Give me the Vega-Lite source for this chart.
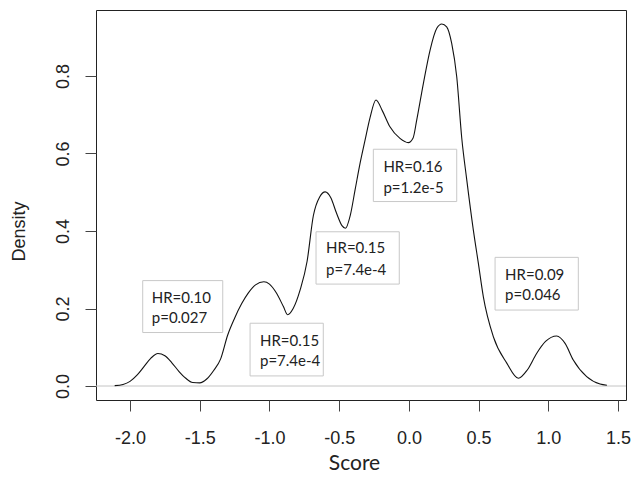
{
  "$schema": "https://vega.github.io/schema/vega-lite/v6.json",
  "width": 530,
  "height": 390,
  "autosize": "none",
  "padding": {"left": 96, "top": 10, "right": 6, "bottom": 90},
  "background": "white",
  "config": {
    "view": {"stroke": "#222", "strokeWidth": 1},
    "axis": {"grid": false, "domain": false, "tickColor": "#444", "tickSize": 11, "tickWidth": 1,
             "labelFont": "Liberation Sans", "labelFontSize": 18, "labelColor": "#222",
             "titleFontWeight": "normal", "titleColor": "#222"}
  },
  "datasets": {
    "density": [
      {"x": -2.11, "y": 0.001}, {"x": -2.05, "y": 0.004}, {"x": -2.0, "y": 0.012}, {"x": -1.95, "y": 0.028},
      {"x": -1.9, "y": 0.05}, {"x": -1.85, "y": 0.072}, {"x": -1.8, "y": 0.084}, {"x": -1.75, "y": 0.078},
      {"x": -1.7, "y": 0.06}, {"x": -1.65, "y": 0.038}, {"x": -1.6, "y": 0.02}, {"x": -1.55, "y": 0.009},
      {"x": -1.5, "y": 0.008}, {"x": -1.45, "y": 0.018}, {"x": -1.4, "y": 0.04}, {"x": -1.35, "y": 0.07},
      {"x": -1.3, "y": 0.131}, {"x": -1.25, "y": 0.175}, {"x": -1.2, "y": 0.212}, {"x": -1.15, "y": 0.241},
      {"x": -1.1, "y": 0.261}, {"x": -1.04, "y": 0.269}, {"x": -1.0, "y": 0.263}, {"x": -0.95, "y": 0.24},
      {"x": -0.9, "y": 0.205}, {"x": -0.87, "y": 0.184}, {"x": -0.83, "y": 0.2}, {"x": -0.78, "y": 0.248},
      {"x": -0.73, "y": 0.322}, {"x": -0.685, "y": 0.44}, {"x": -0.64, "y": 0.488}, {"x": -0.6, "y": 0.501},
      {"x": -0.56, "y": 0.486}, {"x": -0.52, "y": 0.447}, {"x": -0.48, "y": 0.414}, {"x": -0.455, "y": 0.407},
      {"x": -0.42, "y": 0.441}, {"x": -0.386, "y": 0.506}, {"x": -0.35, "y": 0.575}, {"x": -0.314, "y": 0.635},
      {"x": -0.279, "y": 0.692}, {"x": -0.236, "y": 0.738}, {"x": -0.19, "y": 0.71}, {"x": -0.136, "y": 0.669},
      {"x": -0.064, "y": 0.639}, {"x": -0.004, "y": 0.628}, {"x": 0.03, "y": 0.64}, {"x": 0.056, "y": 0.686},
      {"x": 0.104, "y": 0.781}, {"x": 0.152, "y": 0.867}, {"x": 0.2, "y": 0.923}, {"x": 0.236, "y": 0.934},
      {"x": 0.271, "y": 0.927}, {"x": 0.307, "y": 0.884}, {"x": 0.343, "y": 0.798}, {"x": 0.379, "y": 0.64},
      {"x": 0.415, "y": 0.532}, {"x": 0.462, "y": 0.403}, {"x": 0.498, "y": 0.317}, {"x": 0.534, "y": 0.23},
      {"x": 0.606, "y": 0.127}, {"x": 0.702, "y": 0.059}, {"x": 0.785, "y": 0.02}, {"x": 0.85, "y": 0.042},
      {"x": 0.916, "y": 0.084}, {"x": 0.98, "y": 0.115}, {"x": 1.06, "y": 0.129}, {"x": 1.12, "y": 0.11},
      {"x": 1.179, "y": 0.067}, {"x": 1.275, "y": 0.024}, {"x": 1.371, "y": 0.005}, {"x": 1.42, "y": 0.002}
    ],
    "boxes": [
      {"x1": -1.909, "x2": -1.335, "y1": 0.138, "y2": 0.272},
      {"x1": -1.139, "x2": -0.614, "y1": 0.026, "y2": 0.162},
      {"x1": -0.666, "x2": -0.069, "y1": 0.263, "y2": 0.398},
      {"x1": -0.255, "x2": 0.343, "y1": 0.476, "y2": 0.611},
      {"x1": 0.618, "x2": 1.215, "y1": 0.196, "y2": 0.332}
    ],
    "labels": [
      {"x": -1.844, "y": 0.227, "text": "HR=0.10"},
      {"x": -1.844, "y": 0.175, "text": "p=0.027"},
      {"x": -1.068, "y": 0.117, "text": "HR=0.15"},
      {"x": -1.068, "y": 0.065, "text": "p=7.4e-4"},
      {"x": -0.594, "y": 0.355, "text": "HR=0.15"},
      {"x": -0.594, "y": 0.299, "text": "p=7.4e-4"},
      {"x": -0.183, "y": 0.566, "text": "HR=0.16"},
      {"x": -0.183, "y": 0.51, "text": "p=1.2e-5"},
      {"x": 0.69, "y": 0.286, "text": "HR=0.09"},
      {"x": 0.69, "y": 0.235, "text": "p=0.046"}
    ]
  },
  "layer": [
    {
      "data": {"values": [{"zero": 0}]},
      "mark": {"type": "rule", "color": "#c4c4c4", "strokeWidth": 1},
      "encoding": {
        "y": {"field": "zero", "type": "quantitative",
              "scale": {"domain": [-0.0361, 0.9703], "nice": false, "zero": false},
              "axis": {"values": [0, 0.2, 0.4, 0.6, 0.8], "format": ".1f",
                       "labelAngle": -90, "labelAlign": "center", "labelBaseline": "alphabetic",
                       "labelPadding": 17, "labelFlush": false,
                       "title": "Density", "titleFont": "Liberation Sans", "titleFontSize": 18,
                       "titleAngle": -90, "titleBaseline": "alphabetic", "titleAlign": "center",
                       "titleX": -72, "titleY": 221}}
      }
    },
    {
      "data": {"name": "density"},
      "mark": {"type": "line", "color": "#111", "strokeWidth": 1.1, "interpolate": "monotone"},
      "encoding": {
        "x": {"field": "x", "type": "quantitative",
              "scale": {"domain": [-2.244, 1.557], "nice": false, "zero": false},
              "axis": {"values": [-2, -1.5, -1, -0.5, 0, 0.5, 1, 1.5],
                       "labelExpr": "datum.value < 0 ? '-' + format(-datum.value, '.1f') : format(datum.value, '.1f')",
                       "labelPadding": 18, "labelBaseline": "top", "labelFlush": false,
                       "title": "Score", "titleFont": "Lato", "titleFontSize": 21,
                       "titleBaseline": "alphabetic", "titleAlign": "center", "titleX": 258, "titleY": 69}},
        "y": {"field": "y", "type": "quantitative",
              "scale": {"domain": [-0.0361, 0.9703], "nice": false, "zero": false},
              "axis": {"values": [0, 0.2, 0.4, 0.6, 0.8], "format": ".1f",
                       "labelAngle": -90, "labelAlign": "center", "labelBaseline": "alphabetic",
                       "labelPadding": 17, "labelFlush": false,
                       "title": "Density", "titleFont": "Liberation Sans", "titleFontSize": 18,
                       "titleAngle": -90, "titleBaseline": "alphabetic", "titleAlign": "center",
                       "titleX": -72, "titleY": 221}}
      }
    },
    {
      "data": {"name": "boxes"},
      "mark": {"type": "rect", "fill": "white", "stroke": "#c8c8c8", "strokeWidth": 1},
      "encoding": {
        "x": {"field": "x1", "type": "quantitative",
              "scale": {"domain": [-2.244, 1.557], "nice": false, "zero": false},
              "axis": {"values": [-2, -1.5, -1, -0.5, 0, 0.5, 1, 1.5],
                       "labelExpr": "datum.value < 0 ? '-' + format(-datum.value, '.1f') : format(datum.value, '.1f')",
                       "labelPadding": 18, "labelBaseline": "top", "labelFlush": false,
                       "title": "Score", "titleFont": "Lato", "titleFontSize": 21,
                       "titleBaseline": "alphabetic", "titleAlign": "center", "titleX": 258, "titleY": 69}},
        "x2": {"field": "x2"},
        "y": {"field": "y1", "type": "quantitative",
              "scale": {"domain": [-0.0361, 0.9703], "nice": false, "zero": false},
              "axis": {"values": [0, 0.2, 0.4, 0.6, 0.8], "format": ".1f",
                       "labelAngle": -90, "labelAlign": "center", "labelBaseline": "alphabetic",
                       "labelPadding": 17, "labelFlush": false,
                       "title": "Density", "titleFont": "Liberation Sans", "titleFontSize": 18,
                       "titleAngle": -90, "titleBaseline": "alphabetic", "titleAlign": "center",
                       "titleX": -72, "titleY": 221}},
        "y2": {"field": "y2"}
      }
    },
    {
      "data": {"name": "labels"},
      "mark": {"type": "text", "font": "Lato", "fontSize": 15, "color": "#222", "align": "left", "baseline": "middle"},
      "encoding": {
        "x": {"field": "x", "type": "quantitative",
              "scale": {"domain": [-2.244, 1.557], "nice": false, "zero": false},
              "axis": {"values": [-2, -1.5, -1, -0.5, 0, 0.5, 1, 1.5],
                       "labelExpr": "datum.value < 0 ? '-' + format(-datum.value, '.1f') : format(datum.value, '.1f')",
                       "labelPadding": 18, "labelBaseline": "top", "labelFlush": false,
                       "title": "Score", "titleFont": "Lato", "titleFontSize": 21,
                       "titleBaseline": "alphabetic", "titleAlign": "center", "titleX": 258, "titleY": 69}},
        "y": {"field": "y", "type": "quantitative",
              "scale": {"domain": [-0.0361, 0.9703], "nice": false, "zero": false},
              "axis": {"values": [0, 0.2, 0.4, 0.6, 0.8], "format": ".1f",
                       "labelAngle": -90, "labelAlign": "center", "labelBaseline": "alphabetic",
                       "labelPadding": 17, "labelFlush": false,
                       "title": "Density", "titleFont": "Liberation Sans", "titleFontSize": 18,
                       "titleAngle": -90, "titleBaseline": "alphabetic", "titleAlign": "center",
                       "titleX": -72, "titleY": 221}},
        "text": {"field": "text"}
      }
    }
  ]
}
